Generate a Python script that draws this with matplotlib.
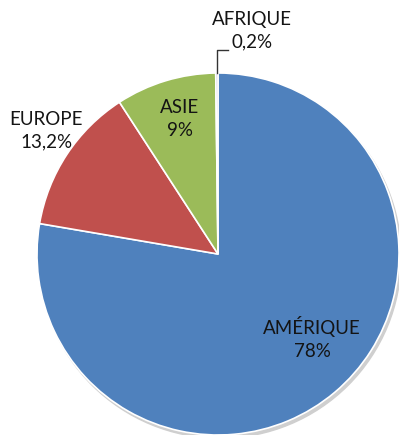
import numpy as np
import matplotlib.pyplot as plt
from matplotlib.patches import Circle

# data
regions = ["AMÉRIQUE", "EUROPE", "ASIE", "AFRIQUE"]
shares = [78.0, 13.2, 9.0, 0.2]
share_labels = ["78%", "13,2%", "9%", "0,2%"]
colors = ["#4F81BD", "#C0504D", "#9BBB59", "#C9C3DC"]

plt.rcParams['font.family'] = ['Lato', 'DejaVu Sans']

fig = plt.figure(figsize=(4.05, 4.40), dpi=100)
cx, cy, r = 218, 254, 181
ax = fig.add_axes([(cx - r) / 405, (440 - cy - r) / 440, 2 * r / 405, 2 * r / 440])

# faint shadow below the pie
ax.add_patch(Circle((0.012, -0.018), 1.0, color="#cfcfcf", zorder=0))
wedges, _ = ax.pie(shares, colors=colors, startangle=90, counterclock=False,
                   wedgeprops=dict(edgecolor="white", linewidth=1.2))
ax.set_xlim(-1, 1)
ax.set_ylim(-1, 1)
ax.axis('off')

tcol = "#141414"
fs = 13.5
pos = {
    "AMÉRIQUE": (0.52, -0.465),
    "EUROPE": (-0.95, 0.68),
    "ASIE": (-0.21, 0.746),
    "AFRIQUE": (0.19, 1.235),
}
for name, lab in zip(regions, share_labels):
    x, y = pos[name]
    ax.text(x, y, name + "\n" + lab, ha="center", va="center", fontsize=fs,
            color=tcol, linespacing=1.4, clip_on=False)

# leader line for the tiny slice
w = wedges[3]
mid = np.deg2rad((w.theta1 + w.theta2) / 2)
x0, y0 = np.cos(mid), np.sin(mid)
ax.plot([x0, x0, x0 + 0.06], [y0, 1.125, 1.125], color="#333333", lw=1, clip_on=False)

fig.savefig("out.png", dpi=100)
